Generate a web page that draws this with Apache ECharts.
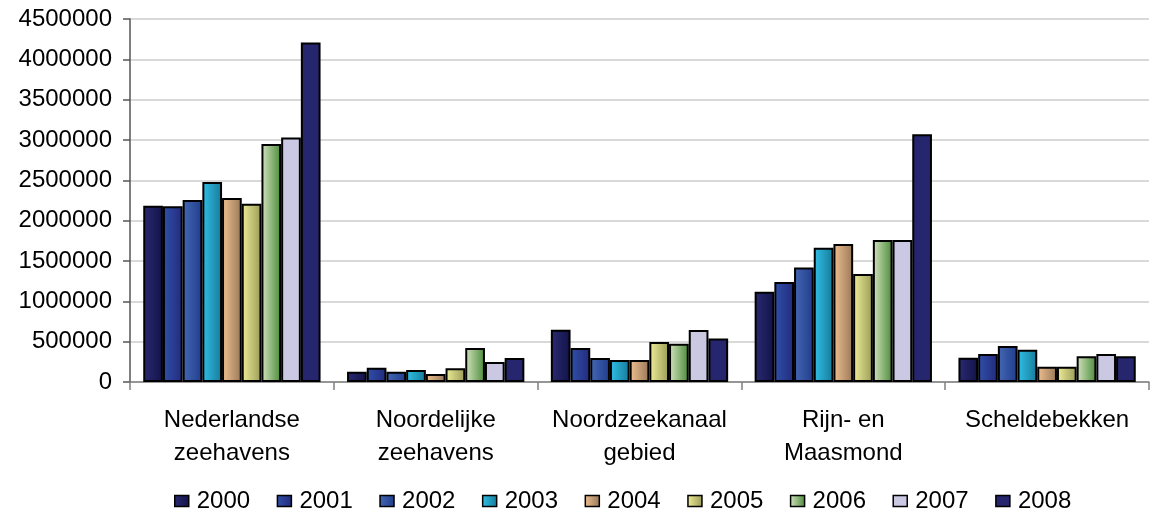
<!DOCTYPE html>
<html>
<head>
<meta charset="utf-8">
<script src="https://cdn.jsdelivr.net/npm/echarts@6/dist/echarts.min.js"></script>
<style>html,body{margin:0;padding:0;background:#fff}#c{width:1155px;height:515px}</style>
</head>
<body>
<div id="c"></div>
<script>
const categories = ['Nederlandse\nzeehavens', 'Noordelijke\nzeehavens', 'Noordzeekanaal\ngebied', 'Rijn- en\nMaasmond', 'Scheldebekken'];
const years = ['2000', '2001', '2002', '2003', '2004', '2005', '2006', '2007', '2008'];
const v2000 = [2185000, 128000, 648000, 1120000, 300000];
const v2001 = [2180000, 177000, 420000, 1240000, 347000];
const v2002 = [2255000, 128000, 297000, 1420000, 446000];
const v2003 = [2480000, 149000, 273000, 1665000, 400000];
const v2004 = [2280000, 99000, 273000, 1710000, 190000];
const v2005 = [2210000, 170000, 495000, 1340000, 190000];
const v2006 = [2950000, 420000, 475000, 1760000, 320000];
const v2007 = [3030000, 248000, 644000, 1760000, 347000];
const v2008 = [4210000, 297000, 540000, 3070000, 320000];
const yTicks = [0, 500000, 1000000, 1500000, 2000000, 2500000, 3000000, 3500000, 4000000, 4500000];

const values = [v2000, v2001, v2002, v2003, v2004, v2005, v2006, v2007, v2008];
const colorStops = [
  ['#2a2a72', '#121248'],
  ['#3050aa', '#222a7c'],
  ['#4468b4', '#203c8c'],
  ['#30c0e8', '#167a98'],
  ['#f0c090', '#987858'],
  ['#eeee98', '#9a9a58'],
  ['#d4e4c0', '#4a8a38'],
  ['#cbc8e4', '#cbc8e4'],
  ['#26266e', '#26266e']
];

const chart = echarts.init(document.getElementById('c'));
const font = 'Liberation Sans, Arial, sans-serif';
chart.setOption({
  animation: false,
  grid: { left: 130, right: 6, top: 19, bottom: 133 },
  legend: {
    top: 489,
    left: 174,
    padding: 0,
    icon: 'rect',
    itemWidth: 14,
    itemHeight: 11,
    itemGap: 26.5,
    itemStyle: { borderColor: '#000', borderWidth: 1.5 },
    textStyle: { fontFamily: font, fontSize: 24, color: '#000', padding: [0, 0, 0, 3] },
    data: years
  },
  xAxis: {
    type: 'category',
    data: categories,
    axisLine: { lineStyle: { color: '#808080', width: 1.5 } },
    axisTick: { show: true, length: 8, lineStyle: { color: '#808080', width: 1.5 } },
    axisLabel: { interval: 0, fontFamily: font, fontSize: 24, color: '#000', lineHeight: 33, margin: 22 }
  },
  yAxis: {
    type: 'value',
    min: 0,
    max: 4500000,
    interval: 500000,
    axisLine: { show: true, lineStyle: { color: '#555', width: 1.5 } },
    axisTick: { show: true, length: 7, lineStyle: { color: '#555', width: 1.5 } },
    splitLine: { lineStyle: { color: '#d9d9d9', width: 2 } },
    axisLabel: {
      fontFamily: font, fontSize: 24, color: '#000', margin: 18,
      formatter: function (v) { return yTicks.indexOf(v) >= 0 ? String(v) : ''; }
    }
  },
  series: years.map(function (y, i) {
    return {
      name: y,
      type: 'bar',
      data: values[i],
      barGap: '0%',
      barCategoryGap: '13%',
      itemStyle: {
        color: new echarts.graphic.LinearGradient(0, 0, 1, 0, [
          { offset: 0, color: colorStops[i][0] },
          { offset: 1, color: colorStops[i][1] }
        ]),
        borderColor: '#000',
        borderWidth: 2
      }
    };
  })
});
</script>
</body>
</html>
